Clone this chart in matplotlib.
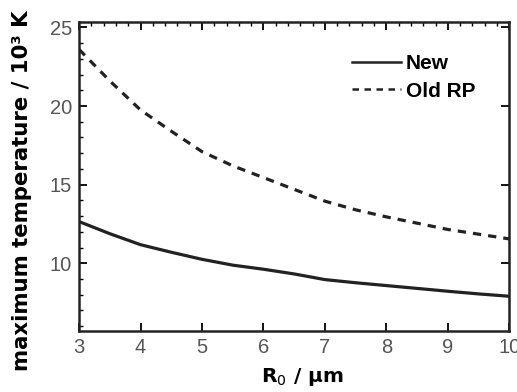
import matplotlib
matplotlib.use("Agg")
import matplotlib.pyplot as plt
from matplotlib.ticker import MultipleLocator

# ── data ──
r0 = [3.0, 3.5, 4.0, 4.5, 5.0, 5.5, 6.0, 6.5, 7.0, 7.5, 8.0, 8.5, 9.0, 9.5, 10.0]
t_new = [12.65, 11.88, 11.18, 10.70, 10.25, 9.88, 9.62, 9.32, 8.96, 8.76,
         8.58, 8.40, 8.22, 8.05, 7.90]
t_old = [23.6, 21.6, 19.75, 18.4, 17.1, 16.2, 15.45, 14.7, 13.95, 13.4,
         12.95, 12.55, 12.15, 11.85, 11.55]

fig = plt.figure(figsize=(5.17, 3.92), dpi=100)
ax = fig.add_axes([0.153, 0.156, 0.832, 0.788])

ax.plot(r0, t_new, color='#222222', lw=2.3, label='New')
ax.plot(r0, t_old, color='#222222', lw=2.3, dashes=(2.6, 2.2), label='Old RP')

ax.set_xlim(3, 10)
ax.set_ylim(5.7, 25.35)
ax.xaxis.set_major_locator(MultipleLocator(1))
ax.xaxis.set_minor_locator(MultipleLocator(0.2))
ax.yaxis.set_major_locator(MultipleLocator(5))
ax.yaxis.set_minor_locator(MultipleLocator(1))

ax.tick_params(which='major', direction='in', length=6, width=1.3,
               top=True, right=True, labelsize=14.5, labelcolor='#555555', pad=5)
ax.tick_params(which='minor', direction='in', length=3, width=1.0,
               top=True, bottom=False, left=True, right=False)
for lbl in ax.get_xticklabels() + ax.get_yticklabels():
    lbl.set_family('Liberation Sans')
for s in ax.spines.values():
    s.set_linewidth(1.8)
    s.set_color('#222222')

ax.set_xlabel('R$_0$ / µm', fontsize=14.5, fontweight='bold')
ax.xaxis.set_label_coords(0.52, -0.115)
ax.set_ylabel('maximum temperature / 10³ K', fontsize=15.3, fontweight='bold')
ax.yaxis.set_label_coords(-0.11, 0.455)

leg = ax.legend(loc='upper right', bbox_to_anchor=(0.921, 0.895), frameon=False,
                borderaxespad=0, borderpad=0,
                handlelength=2.35, handletextpad=0.25, labelspacing=0.4,
                prop={'family': 'Liberation Sans', 'weight': 'bold', 'size': 15})
for h in leg.get_lines():
    h.set_linewidth(1.8)

fig.savefig('out.png', dpi=100)
